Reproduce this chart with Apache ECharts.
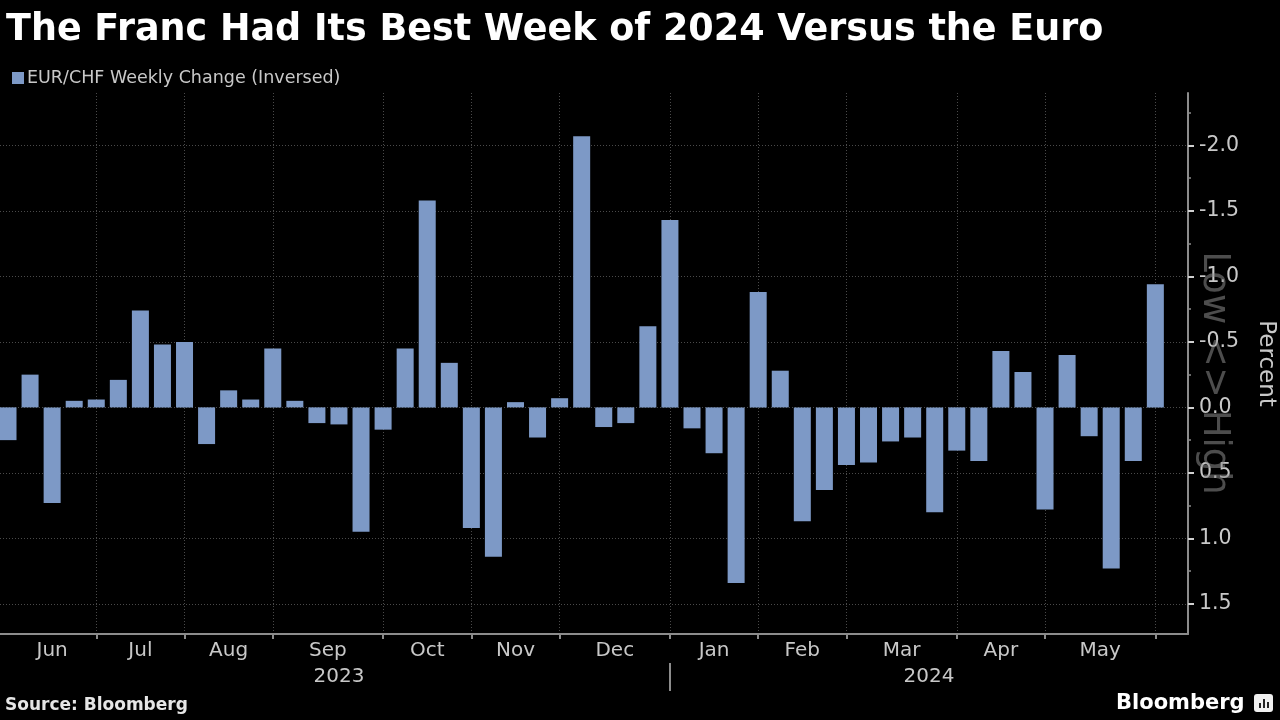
<!DOCTYPE html>
<html>
<head>
<meta charset="utf-8">
<style>
  html, body { margin: 0; padding: 0; background: #000; }
  #chart { width: 1280px; height: 720px; }
</style>
<script src="https://cdn.jsdelivr.net/npm/echarts@6/dist/echarts.min.js"></script>
</head>
<body>
<div id="chart"></div>
<script>
// ---- data (weekly, Friday dates) ----
const weeks = [
  '2023-06-02','2023-06-09','2023-06-16','2023-06-23','2023-06-30',
  '2023-07-07','2023-07-14','2023-07-21','2023-07-28',
  '2023-08-04','2023-08-11','2023-08-18','2023-08-25',
  '2023-09-01','2023-09-08','2023-09-15','2023-09-22','2023-09-29',
  '2023-10-06','2023-10-13','2023-10-20','2023-10-27',
  '2023-11-03','2023-11-10','2023-11-17','2023-11-24',
  '2023-12-01','2023-12-08','2023-12-15','2023-12-22','2023-12-29',
  '2024-01-05','2024-01-12','2024-01-19','2024-01-26',
  '2024-02-02','2024-02-09','2024-02-16','2024-02-23',
  '2024-03-01','2024-03-08','2024-03-15','2024-03-22','2024-03-29',
  '2024-04-05','2024-04-12','2024-04-19','2024-04-26',
  '2024-05-03','2024-05-10','2024-05-17','2024-05-24','2024-05-31'
];
const values = [
  0.25, -0.25, 0.73, -0.05, -0.06,
  -0.21, -0.74, -0.48, -0.50,
  0.28, -0.13, -0.06, -0.45,
  -0.05, 0.12, 0.13, 0.95, 0.17,
  -0.45, -1.58, -0.34, 0.92,
  1.14, -0.04, 0.23, -0.07,
  -2.07, 0.15, 0.12, -0.62, -1.43,
  0.16, 0.35, 1.34, -0.88,
  -0.28, 0.87, 0.63, 0.44,
  0.42, 0.26, 0.23, 0.80, 0.33,
  0.41, -0.43, -0.27, 0.78,
  -0.40, 0.22, 1.23, 0.41, -0.94
];
const monthNames = ['Jun','Jul','Aug','Sep','Oct','Nov','Dec','Jan','Feb','Mar','Apr','May'];
const yearLabels = ['2023','2024'];
const yTicks = [-2.0, -1.5, -1.0, -0.5, 0.0, 0.5, 1.0, 1.5];
const yMinorTicks = [-2.25, -1.75, -1.25, -0.75, -0.25, 0.25, 0.75, 1.25];
const seriesName = 'EUR/CHF Weekly Change (Inversed)';

// ---- derived axis helpers ----
const X_MIN = -0.363, X_MAX = 53.48;
const Y_MIN = -2.4, Y_MAX = 1.73;
const mon = s => s.slice(0, 7);
const monthTicks = [];
weeks.forEach((w, i) => {
  if (i === weeks.length - 1 || mon(weeks[i + 1]) !== mon(w)) monthTicks.push(i);
});
const monthLabelPos = monthTicks.map((t, k) => ((k === 0 ? 0 : monthTicks[k - 1]) + t) / 2);
let yearBreak = 0;
weeks.forEach((w, i) => { if (i < weeks.length - 1 && weeks[i + 1].slice(0, 4) !== w.slice(0, 4)) yearBreak = i; });
const yearLabelPos = [yearBreak / 2, (yearBreak + X_MAX) / 2];
const findIdx = (arr, v) => arr.findIndex(p => Math.abs(p - v) < 1e-6);

const FONT = 'DejaVu Sans';
const LABEL = '#c8c8c8';
const GRIDC = '#4a4a4a';
const AXISC = '#8c8c8c';

const chart = echarts.init(document.getElementById('chart'), null, { renderer: 'canvas' });
const gridRect = { left: 0, right: 92, top: 93, bottom: 86, outerBoundsMode: 'none', containLabel: false };

chart.setOption({
  backgroundColor: '#000',
  animation: false,
  textStyle: { fontFamily: FONT },
  title: {
    text: 'The Franc Had Its Best Week of 2024 Versus the Euro',
    left: 1, top: 7,
    textStyle: { color: '#ffffff', fontSize: 36.5, fontWeight: 'bold', fontFamily: FONT }
  },
  legend: {
    data: [seriesName],
    left: 7, top: 64,
    icon: 'rect', itemWidth: 12, itemHeight: 12, itemGap: 10,
    textStyle: { color: LABEL, fontSize: 17.5, fontFamily: FONT, padding: [0, 0, 0, -2] }
  },
  grid: [ Object.assign({}, gridRect), Object.assign({}, gridRect) ],
  xAxis: [
    {
      type: 'value', gridIndex: 0, min: X_MIN, max: X_MAX, position: 'bottom',
      axisLine: { show: true, onZero: false, lineStyle: { color: AXISC, width: 2 } },
      axisTick: { show: true, customValues: monthTicks, length: 5, lineStyle: { color: AXISC, width: 2 } },
      axisLabel: {
        show: true, customValues: monthLabelPos, margin: 7,
        color: LABEL, fontSize: 20, fontFamily: FONT,
        formatter: v => { const k = findIdx(monthLabelPos, v); return k >= 0 ? monthNames[k] : ''; }
      },
      splitLine: { show: true, lineStyle: { color: GRIDC, type: [1, 2], width: 1 } }
    },
    {
      type: 'value', gridIndex: 1, min: X_MIN, max: X_MAX, position: 'bottom', offset: 29,
      axisLine: { show: false, onZero: false },
      axisTick: { show: true, customValues: [yearBreak], length: 28, lineStyle: { color: AXISC, width: 2 } },
      axisLabel: {
        show: true, customValues: yearLabelPos, margin: 4,
        color: LABEL, fontSize: 20, fontFamily: FONT,
        formatter: v => { const k = findIdx(yearLabelPos, v); return k >= 0 ? yearLabels[k] : ''; }
      },
      splitLine: { show: false }
    }
  ],
  yAxis: [
    {
      type: 'value', gridIndex: 0, min: Y_MIN, max: Y_MAX, inverse: true, position: 'right',
      name: 'Percent', nameLocation: 'middle', nameRotate: -90, nameGap: 66,
      nameTextStyle: { color: LABEL, fontSize: 23, fontFamily: FONT },
      axisLine: { show: true, onZero: false, lineStyle: { color: AXISC, width: 2 } },
      axisTick: { show: true, customValues: yTicks, length: 6, lineStyle: { color: '#d0d0d0', width: 2 } },
      axisLabel: {
        show: true, customValues: yTicks, margin: 11,
        color: LABEL, fontSize: 20.5, fontFamily: FONT,
        formatter: v => v.toFixed(1)
      },
      splitLine: { show: true, lineStyle: { color: GRIDC, type: [1, 2], width: 1 } }
    },
    {
      type: 'value', gridIndex: 1, min: Y_MIN, max: Y_MAX, inverse: true, position: 'right',
      axisLine: { show: false, onZero: false },
      axisTick: { show: true, customValues: yMinorTicks, length: 3, lineStyle: { color: AXISC, width: 1.5 } },
      axisLabel: { show: false },
      splitLine: { show: false }
    }
  ],
  series: [
    {
      name: seriesName,
      type: 'bar',
      xAxisIndex: 0, yAxisIndex: 0,
      barWidth: 17,
      itemStyle: { color: '#7d99c6' },
      data: values.map((v, i) => [i, v])
    }
  ],
  graphic: [
    {
      type: 'text', x: 1214, y: 373, rotation: -Math.PI / 2, z: 100,
      style: { text: 'Low <> High', fill: 'rgba(140,140,140,0.55)', fontSize: 37, fontFamily: FONT,
               align: 'center', verticalAlign: 'middle' }
    },
    {
      type: 'text', left: 5, top: 697,
      style: { text: 'Source: Bloomberg', fill: '#e6e6e6', fontSize: 17, fontWeight: 'bold', fontFamily: FONT }
    },
    {
      type: 'text', x: 1116, y: 704,
      style: { text: 'Bloomberg', fill: '#ffffff', fontSize: 21, fontWeight: 'bold', fontFamily: FONT,
               align: 'left', verticalAlign: 'middle' }
    },
    {
      type: 'group', x: 1254, y: 694,
      children: [
        { type: 'rect', shape: { x: 0, y: 0, width: 19, height: 18, r: 3 }, style: { fill: '#f0f0f0' } },
        { type: 'rect', shape: { x: 5, y: 9, width: 2, height: 5 }, style: { fill: '#222' } },
        { type: 'rect', shape: { x: 9, y: 5, width: 2, height: 9 }, style: { fill: '#222' } },
        { type: 'rect', shape: { x: 13, y: 8, width: 2, height: 6 }, style: { fill: '#222' } }
      ]
    }
  ]
});
</script>
</body>
</html>
